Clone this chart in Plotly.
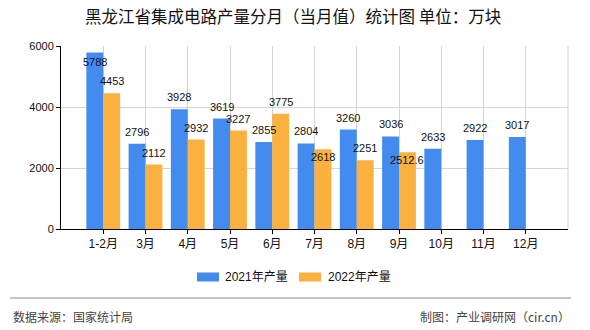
import plotly.graph_objects as go

# ---- data ----
categories = ["1-2月", "3月", "4月", "5月", "6月", "7月", "8月", "9月", "10月", "11月", "12月"]
prod_2021 = [5788, 2796, 3928, 3619, 2855, 2804, 3260, 3036, 2633, 2922, 3017]
prod_2022 = [4453, 2112, 2932, 3227, 3775, 2618, 2251, 2512.6]
label_2021 = ["5788", "2796", "3928", "3619", "2855", "2804", "3260", "3036", "2633", "2922", "3017"]
label_2022 = ["4453", "2112", "2932", "3227", "3775", "2618", "2251", "2512.6"]
series_names = ["2021年产量", "2022年产量"]
y_ticks = [0, 2000, 4000, 6000]

# ---- style ----
W, H = 590, 330
L, R, T, B = 61, 22, 46, 101
BLUE = "#438BEF"
ORANGE = "#FBB13F"
GRID = "#D4D4D4"
NUM_FONT = "Liberation Sans, Arial, sans-serif"
CJK_FONT = "Liberation Sans, Noto Sans CJK SC, sans-serif"

# label vertical offsets (px) relative to bar top
off_2021 = [-10, 12, 12, 12, 12, 12, 12, 12, 12, 12, 12]
off_2022 = [12, 12, 12, 12, 12, -8, 12, -8]

pw = W - L - R
ph = H - T - B


def px_x(px):
    return (px - L) / pw


def px_y(py):
    return (H - B - py) / ph


fig = go.Figure()
fig.add_trace(go.Bar(x=categories, y=prod_2021, name=series_names[0],
                     marker=dict(color=BLUE, line=dict(width=0)), showlegend=False))
fig.add_trace(go.Bar(x=categories[:len(prod_2022)], y=prod_2022, name=series_names[1],
                     marker=dict(color=ORANGE, line=dict(width=0)), showlegend=False))

cat_w = pw / (len(categories) + 1)
half = cat_w * 0.8 / 4

annotations = []
for c, v, t, o in zip(categories, prod_2021, label_2021, off_2021):
    annotations.append(dict(x=c, y=v, text=t, showarrow=False, xshift=-half, yshift=o,
                            font=dict(family=NUM_FONT, size=11, color="#111")))
for c, v, t, o in zip(categories, prod_2022, label_2022, off_2022):
    annotations.append(dict(x=c, y=v, text=t, showarrow=False, xshift=half, yshift=o,
                            font=dict(family=NUM_FONT, size=11, color="#111")))

# custom legend
legend_items = [(197, 223, BLUE, series_names[0]), (299, 326, ORANGE, series_names[1])]
shapes = []
for rx, tx, col, name in legend_items:
    shapes.append(dict(type="rect", xref="paper", yref="paper",
                       x0=px_x(rx), x1=px_x(rx + 22), y0=px_y(281.5), y1=px_y(272.5),
                       fillcolor=col, line=dict(width=0)))
    annotations.append(dict(xref="paper", yref="paper", x=px_x(tx), y=px_y(277),
                            xanchor="left", yanchor="middle", text=name, showarrow=False,
                            font=dict(family=CJK_FONT, size=12, color="#111")))

# right border of plot
shapes.append(dict(type="line", xref="paper", yref="paper", x0=1, x1=1, y0=0, y1=1,
                   line=dict(color=GRID, width=1)))
# footer line
shapes.append(dict(type="line", xref="paper", yref="paper", x0=px_x(10), x1=px_x(571),
                   y0=px_y(298), y1=px_y(298), line=dict(color="#888888", width=1)))

annotations.append(dict(xref="paper", yref="paper", x=px_x(11), y=px_y(316),
                        xanchor="left", yanchor="middle", text="数据来源：国家统计局",
                        showarrow=False, font=dict(family="Noto Sans CJK SC", size=12, color="#444")))
annotations.append(dict(xref="paper", yref="paper", x=px_x(572), y=px_y(316),
                        xanchor="right", yanchor="middle", text="制图：产业调研网（cir.cn）",
                        showarrow=False, font=dict(family="Noto Sans CJK SC", size=12, color="#444")))

fig.update_layout(
    width=W, height=H,
    margin=dict(l=L, r=R, t=T, b=B, pad=0),
    paper_bgcolor="white", plot_bgcolor="white",
    barmode="group", bargap=0.2, bargroupgap=0,
    title=dict(text="黑龙江省集成电路产量分月（当月值）统计图 单位：万块",
               xref="container", yref="container", x=85 / W, xanchor="left",
               y=1 - 17.5 / H, yanchor="middle",
               font=dict(family="Noto Sans CJK SC", size=16.5, color="#111")),
    xaxis=dict(type="category", range=[-1, len(categories)], showgrid=True, gridcolor=GRID,
               gridwidth=1, showline=True, linecolor="black", linewidth=1,
               ticks="outside", ticklen=4, tickcolor="black",
               tickfont=dict(family=CJK_FONT, size=12, color="#111"), fixedrange=True),
    yaxis=dict(range=[0, 6000], tickvals=y_ticks, showgrid=True, gridcolor=GRID, gridwidth=1,
               zeroline=False, showline=True, linecolor="black", linewidth=1,
               ticks="outside", ticklen=4, tickcolor="black",
               tickfont=dict(family=NUM_FONT, size=11, color="#111"), fixedrange=True),
    annotations=annotations,
    shapes=shapes,
    showlegend=False,
)

fig.write_html("out.html", config={"displayModeBar": False})
